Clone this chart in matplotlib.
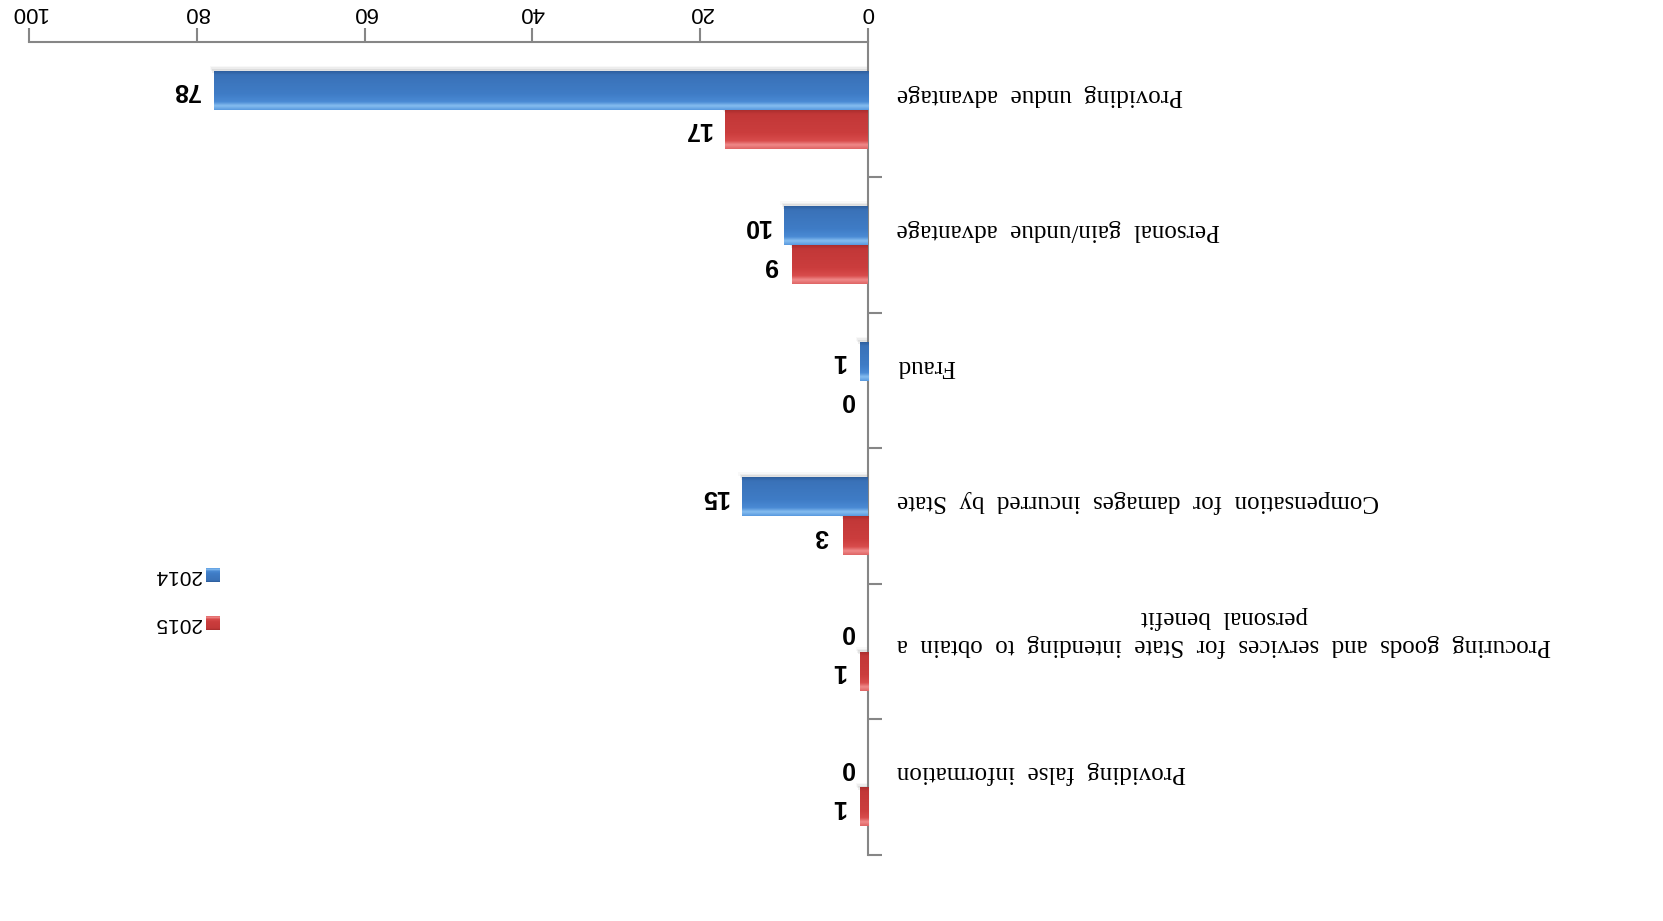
import numpy as np
import matplotlib
matplotlib.use("Agg")
import matplotlib.pyplot as plt
from matplotlib.patches import Rectangle
from matplotlib.transforms import blended_transform_factory
from matplotlib.colors import LinearSegmentedColormap

# ---- data ----
categories = [
    "Providing undue advantage",
    "Personal gain/undue advantage",
    "Fraud",
    "Compensation for damages incurred by State",
    "Procuring goods and services for State intending to obtain a\npersonal benefit",
    "Providing false information",
]
series_names = ["2014", "2015"]
values_2014 = [78, 10, 1, 15, 0, 0]
values_2015 = [17, 9, 0, 3, 1, 1]
x_ticks = [0, 20, 40, 60, 80, 100]

W, H = 1663, 921
fig = plt.figure(figsize=(W / 100, H / 100), dpi=100)
fig.patch.set_facecolor("white")

ax_left, ax_right, ax_top, ax_bot = 29, 868, 42, 855
ax = fig.add_axes([ax_left / W, 1 - ax_bot / H, (ax_right - ax_left) / W, (ax_bot - ax_top) / H])

n = len(categories)
y = np.arange(n)
bh = 0.288
off = 0.145

blue_cmap = LinearSegmentedColormap.from_list(
    "b", [(0, "#2c5a98"), (0.12, "#3a72b8"), (0.6, "#3f7cc6"), (0.8, "#4a8ad4"), (0.9, "#86bdf0"), (1, "#5a9be0")])
red_cmap = LinearSegmentedColormap.from_list(
    "r", [(0, "#a52c2c"), (0.12, "#c23838"), (0.6, "#cb3d3d"), (0.8, "#d84c4c"), (0.9, "#f08a8a"), (1, "#e06666")])

grad = np.linspace(0, 1, 64).reshape(-1, 1)

ax.set_xlim(100, 0)
ax.set_ylim(n - 0.5, -0.5)


def draw_series(vals, ypos, cmap):
    bars = ax.barh(ypos, vals, height=bh, color="none", edgecolor="none", zorder=3)
    for b, v in zip(bars, vals):
        if v <= 0:
            continue
        x0 = b.get_x()
        x1 = x0 + b.get_width()
        y0 = b.get_y()
        y1 = y0 + b.get_height()
        # soft shadow above the bar (screen top)
        for k, a in enumerate([0.10, 0.07, 0.04]):
            ax.add_patch(Rectangle((x0, y0 - 0.012 * (k + 1)), x1 - x0 + 0.15 * (k + 1), 0.03,
                                   facecolor="#606060", edgecolor="none", alpha=a, zorder=2))
        im = ax.imshow(grad, cmap=cmap, extent=(x0, x1, y0, y1), origin="lower",
                       aspect="auto", zorder=3, interpolation="bilinear")
        im.set_clip_path(b)
    return bars


bars_b = draw_series(values_2014, y - off, blue_cmap)
bars_r = draw_series(values_2015, y + off, red_cmap)
ax.set_xlim(100, 0)
ax.set_ylim(n - 0.5, -0.5)

# value labels
px_per_unit = (ax_right - ax_left) / 100.0
lab_gap = 14 / px_per_unit
for vals, ypos in [(values_2014, y - off), (values_2015, y + off)]:
    for v, yy in zip(vals, ypos):
        ax.text(v + lab_gap, yy, str(v), rotation=180, ha="right", va="center",
                fontsize=18, fontweight="bold", family="Liberation Sans", color="#000000", zorder=5)

# axes styling
for s in ["left", "bottom"]:
    ax.spines[s].set_visible(False)
grey = "#868686"
ax.spines["top"].set_color(grey)
ax.spines["right"].set_color(grey)
ax.spines["top"].set_linewidth(1.5)
ax.spines["right"].set_linewidth(1.5)
ax.xaxis.set_ticks_position("top")
ax.set_xticks(x_ticks)
ax.set_xticklabels([str(t) for t in x_ticks], rotation=180, fontsize=16, family="Liberation Sans")
ax.tick_params(axis="x", direction="out", length=10, width=1.5, color=grey, pad=4)
ax.yaxis.set_ticks_position("right")
ax.set_yticks(np.arange(n) + 0.5)
ax.set_yticklabels([])
ax.tick_params(axis="y", direction="out", length=10, width=1.5, color=grey)

# category labels (wide word spacing as in the original)
tr = blended_transform_factory(fig.transFigure, ax.transData)
for i, c in enumerate(categories):
    dy = 0.15 if "\n" in c else 0.11
    txt = "\n".join("  ".join(line.split(" ")) for line in c.split("\n"))
    ax.text(897 / W, i - dy, txt, transform=tr, rotation=180, ha="left", va="center",
            multialignment="center", fontsize=18, family="Liberation Serif", color="#000000",
            linespacing=1.25)

# legend
leg_items = [("2014", blue_cmap, 575), ("2015", red_cmap, 623)]
for name, cm, yc in leg_items:
    s = 14
    axl = fig.add_axes([206 / W, 1 - (yc + s / 2) / H, s / W, s / H])
    axl.imshow(grad[::-1], cmap=cm, aspect="auto", extent=(0, 1, 0, 1), interpolation="bilinear")
    axl.set_axis_off()
    fig.text(201 / W, 1 - yc / H, name, rotation=180, ha="right", va="center",
             fontsize=15, family="Liberation Sans", color="#000000")

fig.savefig("out.png", dpi=100, facecolor="white")
